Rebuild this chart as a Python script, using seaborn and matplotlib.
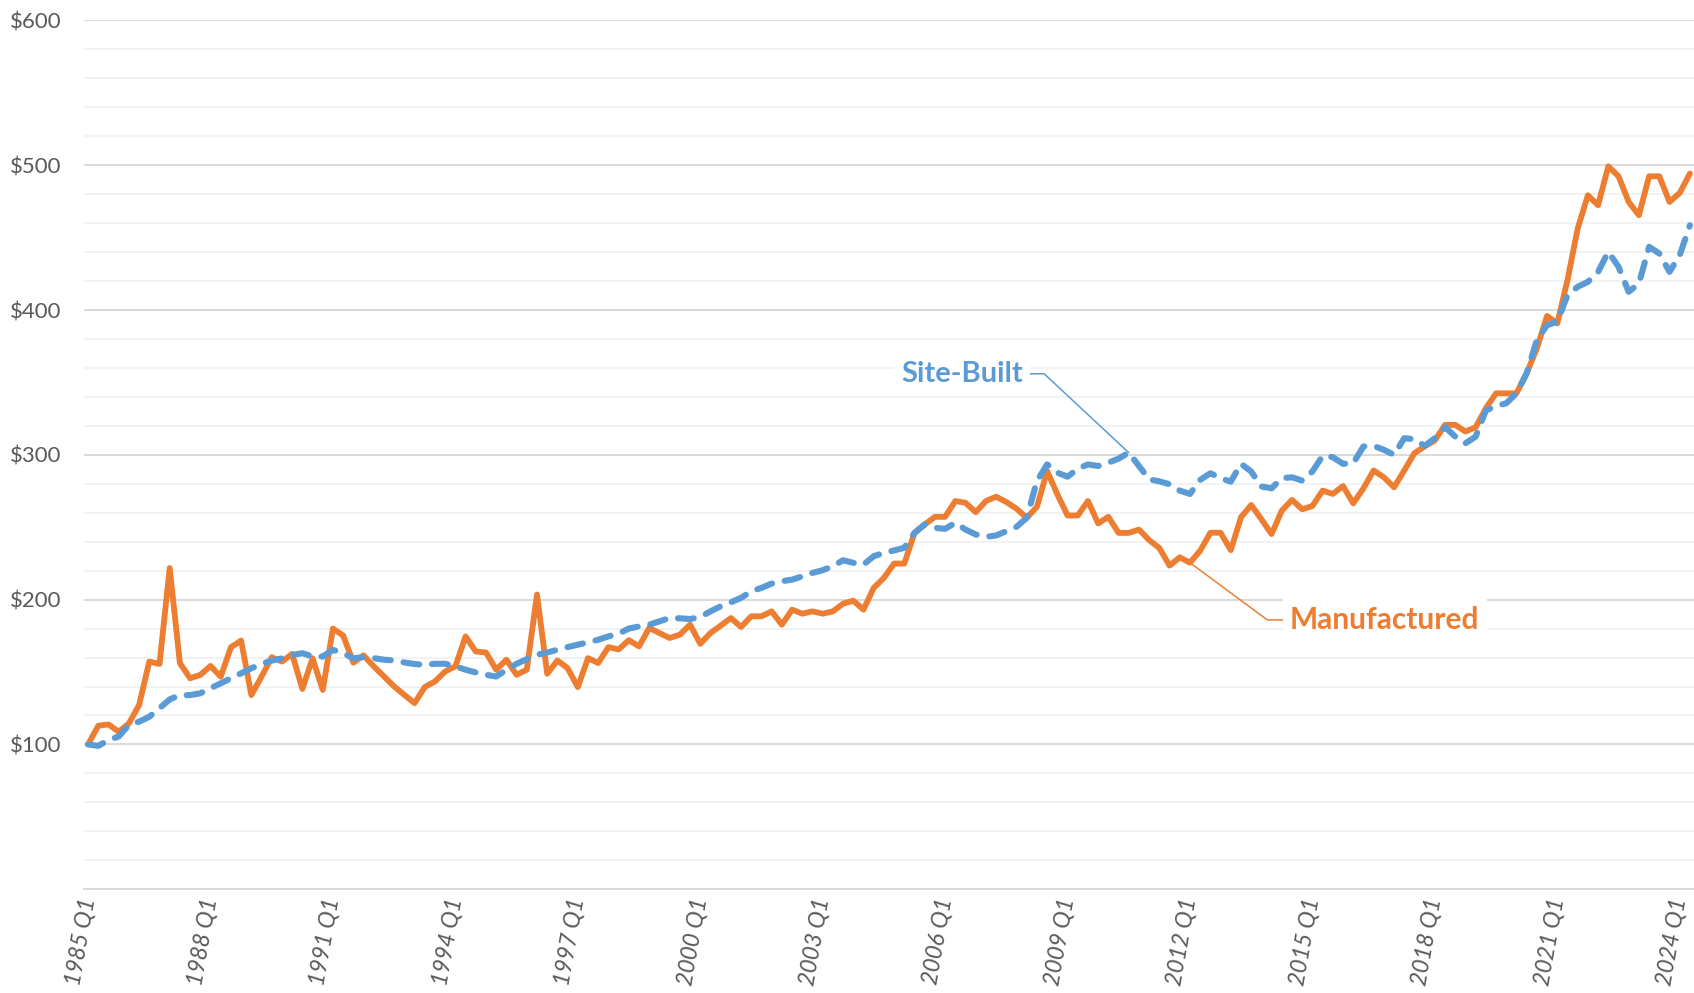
import numpy as np
import pandas as pd
import matplotlib
matplotlib.use("Agg")
import matplotlib.pyplot as plt
import seaborn as sns
from matplotlib.ticker import MultipleLocator, FuncFormatter

# quarterly index values, 1985 Q1 .. 2024 Q2 (1985 Q1 = $100)
manufactured = [
    100, 112.9, 113.8, 108.8, 114.5, 127.2, 157.2, 155.6, 221.8, 156.1,
    145.7, 148, 154.2, 146.8, 167.1, 171.7, 134.1, 146.8, 160.2, 157.2,
    162.5, 138.3, 159.5, 137.6, 180, 175.2, 156.5, 161.5, 153.9, 146.9,
    140, 134.2, 128.5, 139.6, 143.5, 150.4, 153.9, 174.6, 164.2, 163.5,
    151.6, 158.5, 148.1, 151.6, 203.5, 148.8, 158, 152.7, 139.6, 159.6,
    156.2, 167.2, 165.6, 172, 167.7, 180.4, 176.9, 173.5, 175.8, 182.7,
    169.5, 176.9, 182, 187.3, 181.1, 188.5, 188.5, 191.9, 182.7, 193.1,
    190.3, 191.9, 190.3, 191.9, 197.2, 199.3, 193.1, 208.1, 215, 224.9,
    224.9, 246.1, 251.9, 257.2, 257.2, 268.1, 266.9, 260.4, 268.1, 271.1,
    267.4, 262.8, 256.5, 264.1, 288.8, 272.7, 258.1, 258.1, 268.1, 252.6,
    257.2, 246.1, 246.1, 248.4, 241.1, 235.6, 223.5, 229.2, 225.5, 233.8,
    246.2, 246.2, 234.2, 256.9, 265.4, 255.5, 245.3, 261.5, 268.9, 262.4,
    264.7, 275.3, 273, 278.5, 266.5, 276.9, 289.2, 284.5, 277.6, 289.2,
    301.2, 305.8, 310, 320.7, 320.7, 316.1, 319.1, 332.2, 342.5, 342.5,
    342.5, 356.3, 373.6, 395.9, 390.8, 420.7, 456.3, 479.3, 472.4, 499.3,
    492.4, 474.7, 465.5, 492.4, 492.4, 474.7, 480.9, 494.3,
]

site_built = [
    100, 99, 103, 105.5, 113.4, 115.7, 119.1, 125, 131.1, 134,
    134.1, 135.3, 138.8, 142.2, 145.7, 149.1, 152.6, 155.6, 157.9, 159.5,
    161.8, 163, 160.7, 160.7, 165.3, 163, 159.5, 160.3, 159.6, 158.5,
    158, 156.6, 155.5, 155, 155.7, 155.7, 153.9, 151.6, 149.7, 148.1,
    146.9, 151.6, 155.7, 158.9, 161.9, 163.5, 165.4, 167.2, 168.9, 170.5,
    172.3, 174.6, 176.5, 180, 181.5, 182.7, 185, 187.3, 187.1, 186.6,
    188, 191.9, 195.4, 198.2, 201.2, 205.8, 208.1, 211.1, 212.7, 213.8,
    216.1, 218.5, 220.3, 223.1, 227.2, 225.4, 224.2, 230, 232.3, 234,
    235.8, 246.1, 251.9, 249.6, 248.9, 253.1, 248.4, 245, 243.4, 244.3,
    247.3, 250.3, 256.5, 281.9, 293.4, 287.7, 284.9, 290.4, 293.4, 292.3,
    294.6, 297.4, 301.5, 292.3, 283.1, 281.7, 279.7, 275.3, 273, 282.7,
    287.3, 283.9, 281.5, 293.8, 288.5, 278.1, 276.9, 283.9, 284.5, 282.2,
    288.5, 299.3, 298.4, 293.8, 294.2, 305.8, 306.2, 303.5, 300, 311.5,
    310.8, 306.2, 311.5, 319.1, 312.6, 308, 312.6, 330.6, 333.8, 335.6,
    342.5, 356.3, 379.3, 389.6, 391.9, 410.3, 416.1, 419.5, 426.4, 440.2,
    429.9, 412.6, 418.4, 443.7, 439.1, 426.4, 437.9, 458.6,
]

tick_labels = ["1985 Q1", "1988 Q1", "1991 Q1", "1994 Q1", "1997 Q1",
               "2000 Q1", "2003 Q1", "2006 Q1", "2009 Q1", "2012 Q1",
               "2015 Q1", "2018 Q1", "2021 Q1", "2024 Q1"]

ORANGE = "#ED7D31"
BLUE = "#5B9BD5"
GREY_TXT = "#595959"

df = pd.DataFrame({"q": np.arange(len(manufactured)),
                   "Manufactured": manufactured,
                   "Site-Built": site_built})

sns.set_theme(style="white")
plt.rcParams["font.family"] = ["Lato", "DejaVu Sans"]

fig = plt.figure(figsize=(16.94, 9.93), dpi=100)
ax = fig.add_axes([84 / 1694, 1 - 889.2 / 993, 1 - 84 / 1694, (889.2 - 20.5) / 993])

sns.lineplot(data=df, x="q", y="Manufactured", color=ORANGE, linewidth=4.2,
             solid_joinstyle="round", ax=ax)
sns.lineplot(data=df, x="q", y="Site-Built", color=BLUE, linewidth=4.4,
             linestyle=(0, (2.6, 2.1)), dash_capstyle="round", ax=ax)

ax.set_xlim(-0.4, len(manufactured) - 0.6)
ax.set_ylim(0, 600)
ax.set_xlabel("")
ax.set_ylabel("")

# gridlines
ax.yaxis.set_major_locator(MultipleLocator(100))
ax.yaxis.set_minor_locator(MultipleLocator(20))
ax.grid(which="minor", axis="y", color="#F2F2F2", linewidth=1.4, zorder=0)
ax.grid(which="major", axis="y", color="#D9D9D9", linewidth=1.4, zorder=0)
ax.grid(which="major", axis="x", visible=False)
ax.set_axisbelow(True)
ax.yaxis.set_major_formatter(FuncFormatter(lambda v, p: "" if v == 0 else f"${v:.0f}"))

for s in ["top", "right", "left"]:
    ax.spines[s].set_visible(False)
ax.spines["bottom"].set_color("#D9D9D9")
ax.spines["bottom"].set_linewidth(1.4)

ax.set_xticks(np.arange(0, len(manufactured), 12))
ax.set_xticklabels(tick_labels, rotation=80, rotation_mode="anchor",
                   ha="right", va="center", style="italic")
ax.tick_params(axis="x", length=0, pad=6, labelsize=16.5, labelcolor=GREY_TXT)
ax.tick_params(axis="y", which="both", length=0, pad=16, labelsize=16,
               labelcolor=GREY_TXT)

# series labels with leader lines
ax.annotate("Site-Built", xy=(102, site_built[102]), xytext=(91.6, 356),
            ha="right", va="center", fontsize=21, fontweight="bold", color=BLUE,
            bbox=dict(boxstyle="square,pad=0.25", fc="white", ec="none"),
            arrowprops=dict(arrowstyle="-", color=BLUE, lw=1.1, shrinkA=0, shrinkB=0,
                            connectionstyle="angle,angleA=0,angleB=137,rad=0"))
ax.annotate("Manufactured", xy=(108, manufactured[108]), xytext=(117.8, 186),
            ha="left", va="center", fontsize=21.5, fontweight="bold", color=ORANGE,
            bbox=dict(boxstyle="square,pad=0.25", fc="white", ec="none"),
            arrowprops=dict(arrowstyle="-", color=ORANGE, lw=1.1, shrinkA=0, shrinkB=0,
                            connectionstyle="angle,angleA=0,angleB=-36.5,rad=0"))

fig.savefig("out.png", dpi=100)
